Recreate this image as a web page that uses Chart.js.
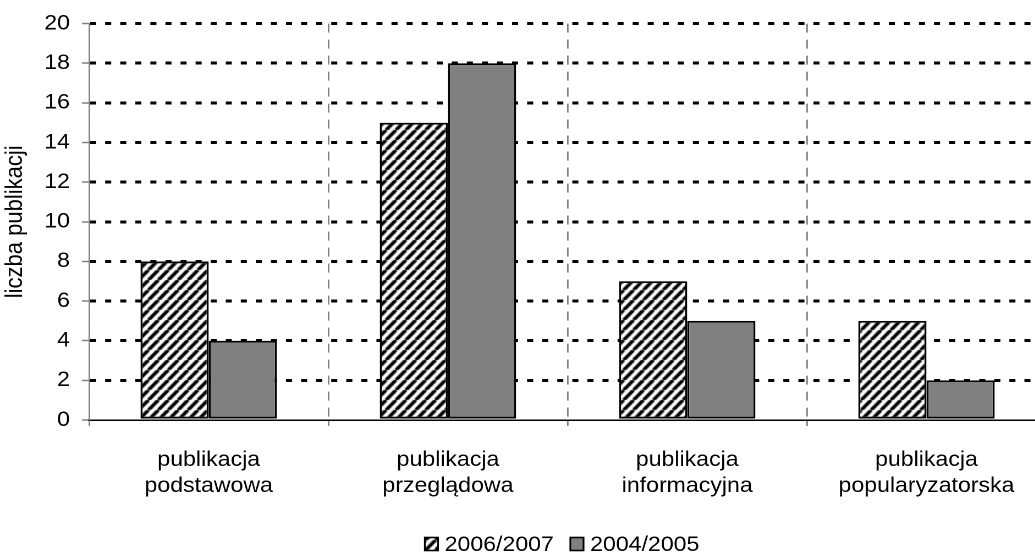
<!DOCTYPE html>
<html>
<head>
<meta charset="utf-8">
<script src="https://cdn.jsdelivr.net/npm/chart.js@4"></script>
<style>
  html, body { margin: 0; padding: 0; background: #fff; overflow: hidden; }
  /* the source picture is stretched horizontally, so the chart is too */
  #wrap { position: relative; width: 951px; height: 557px; transform: scaleX(1.1); transform-origin: 0 0; }
</style>
</head>
<body>
<div id="wrap"><canvas id="myChart"></canvas></div>
<script>
const categories = [
  ["publikacja", "podstawowa"],
  ["publikacja", "przeglądowa"],
  ["publikacja", "informacyjna"],
  ["publikacja", "popularyzatorska"],
];
const series_2006 = [8, 15, 7, 5];
const series_2004 = [4, 18, 5, 2];
const y_min = 0;
const y_max = 20;
const y_step = 2;

const FONT = "'Liberation Sans', Arial, sans-serif";

// hatched fill for 2006/2007
function makeHatch() {
  const w = 9, h = 10;
  const c = document.createElement("canvas");
  c.width = w;
  c.height = h;
  const g = c.getContext("2d");
  g.fillStyle = "#fff";
  g.fillRect(0, 0, w, h);
  g.strokeStyle = "#000";
  g.lineWidth = 3.3;
  g.beginPath();
  g.moveTo(0, h); g.lineTo(w, 0);
  g.moveTo(-w, h); g.lineTo(0, 0);
  g.moveTo(w, 2 * h); g.lineTo(2 * w, h);
  g.moveTo(w, h); g.lineTo(2 * w, 0);
  g.moveTo(-w, 2 * h); g.lineTo(0, h);
  g.stroke();
  return g.createPattern(c, "repeat");
}
const hatch = makeHatch();

// legend drawn by hand so the box/text spacing matches
const bottomLegend = {
  id: "bottomLegend",
  afterDraw(chart) {
    const c = chart.ctx;
    c.save();
    c.font = "21px " + FONT;
    c.textBaseline = "middle";
    c.textAlign = "left";
    const box = 12, boxH = 13, gap = 6, itemGap = 15;
    const items = chart.data.datasets.map((d) => ({
      label: d.label,
      fill: d.backgroundColor,
      w: c.measureText(d.label).width,
    }));
    const total =
      items.reduce((s, it) => s + box + gap + it.w, 0) + itemGap * (items.length - 1);
    let x = (chart.chartArea.left + chart.chartArea.right) / 2 - 5 - total / 2;
    const y = 544;
    items.forEach((it) => {
      c.fillStyle = it.fill;
      c.fillRect(x, y - boxH / 2, box, boxH);
      c.strokeStyle = "#000";
      c.lineWidth = 1.6;
      c.strokeRect(x, y - boxH / 2, box, boxH);
      c.fillStyle = "#000";
      c.fillText(it.label, x + box + gap, y + 1);
      x += box + gap + it.w + itemGap;
    });
    c.restore();
  },
};

Chart.defaults.font.family = FONT;
Chart.defaults.font.size = 21;
Chart.defaults.color = "#000";

const ctx = document.getElementById("myChart").getContext("2d");
const myChart = new Chart(ctx, {
  type: "bar",
  data: {
    labels: categories,
    datasets: [
      {
        label: "2006/2007",
        data: series_2006,
        backgroundColor: hatch,
        borderColor: "#000",
        borderWidth: 1.9,
        borderSkipped: false,
      },
      {
        label: "2004/2005",
        data: series_2004,
        backgroundColor: "#808080",
        borderColor: "#000",
        borderWidth: 1.9,
        borderSkipped: false,
      },
    ],
  },
  plugins: [bottomLegend],
  options: {
    responsive: true,
    maintainAspectRatio: false,
    animation: false,
    devicePixelRatio: 2,
    layout: { padding: { top: 4.4, right: 0, left: 0.8, bottom: 30 } },
    datasets: {
      bar: { categoryPercentage: 0.57, barPercentage: 1 },
    },
    plugins: {
      tooltip: { enabled: false },
      legend: { display: false },
    },
    scales: {
      x: {
        border: { color: "#000", width: 1.5, dash: [9, 7] },
        grid: {
          offset: true,
          color: "#808080",
          lineWidth: 1.4,
          tickColor: "#808080",
          tickLength: 6,
          tickWidth: 1.4,
          tickBorderDash: [],
        },
        ticks: { padding: 21, maxRotation: 0, font: { lineHeight: 1.24 } },
        afterFit: (scale) => {
          scale.height = 107;
        },
      },
      y: {
        min: y_min,
        max: y_max,
        border: { color: "#808080", width: 1.4, dash: [5.5, 8.2] },
        title: {
          display: true,
          text: "liczba publikacji",
          font: { size: 22 },
          padding: { top: 0, bottom: 2 },
        },
        grid: {
          color: (c) => (c.tick && c.tick.value === 0 ? "rgba(0,0,0,0)" : "#000"),
          lineWidth: 3,
          tickColor: "#808080",
          tickLength: 6.4,
          tickWidth: 1.5,
          tickBorderDash: [],
        },
        ticks: { stepSize: y_step, padding: 11 },
      },
    },
  },
});
</script>
</body>
</html>
